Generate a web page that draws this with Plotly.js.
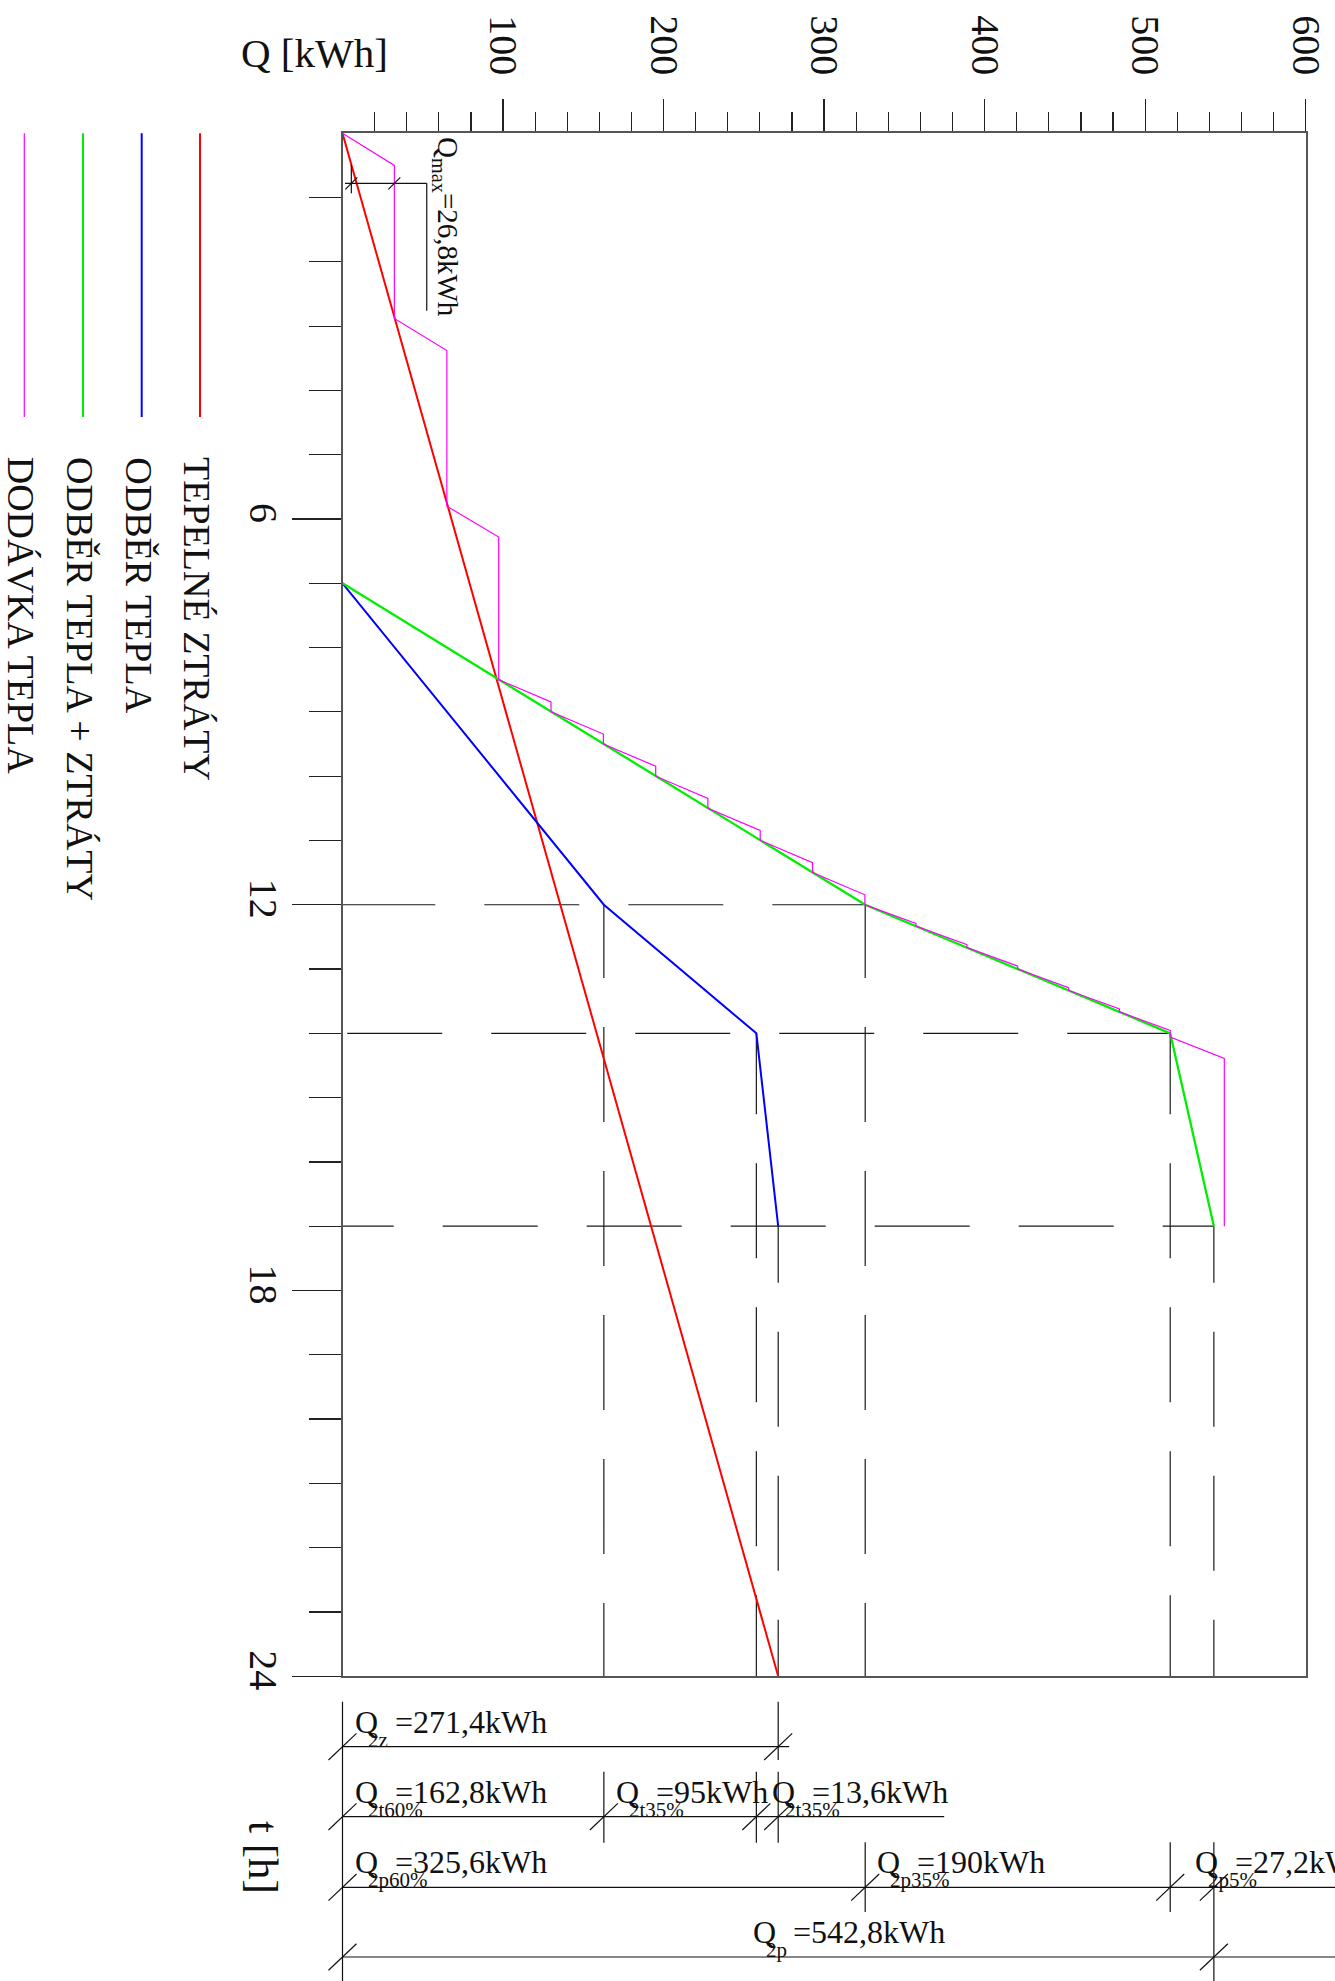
<!DOCTYPE html>
<html>
<head>
<meta charset="utf-8">
<script src="https://cdn.plot.ly/plotly-3.0.1.min.js"></script>
<style>
  html, body { margin: 0; padding: 0; background: #fff; }
  #chart { width: 1335px; height: 1981px; }
</style>
</head>
<body>
<div id="chart"></div>
<script>
// ---------------- data ----------------
// heat losses over the day (TEPELNÉ ZTRÁTY)
const lossT = [0, 24];
const lossQ = [0, 271.4];
// heat consumption (ODBĚR TEPLA)
const demandT = [7, 12, 14, 17];
const demandQ = [0, 162.8, 257.8, 271.4];
// consumption + losses (ODBĚR TEPLA + ZTRÁTY)
const totalT = [7, 12, 14, 17];
const totalQ = [0, 325.6, 515.6, 542.8];
// stepped heat delivery (DODÁVKA TEPLA)
const supplyT = [0, 0.50, 2.88, 3.38, 5.80, 6.28, 8.50, 8.845, 9.0, 9.345, 9.5, 9.845, 10.0,
                 10.345, 10.5, 10.845, 11.0, 11.345, 11.5, 11.845, 12.0, 12.29, 12.333, 12.62,
                 12.667, 12.955, 13.0, 13.29, 13.333, 13.62, 13.667, 13.955, 14.06, 14.39, 17.0];
const supplyQ = [0, 32.3, 32.3, 65.0, 65.0, 97.3, 97.3, 129.9, 129.9, 162.5, 162.5, 195.1, 195.1,
                 227.6, 227.6, 260.2, 260.2, 292.8, 292.8, 325.4, 325.4, 357.2, 357.2, 389.0,
                 389.0, 420.6, 420.6, 452.3, 452.3, 484.0, 484.0, 515.6, 515.6, 549.3, 549.3];
const qMax = 26.8;

const seriesNames = ['TEPELNÉ ZTRÁTY', 'ODBĚR TEPLA', 'ODBĚR TEPLA + ZTRÁTY', 'DODÁVKA TEPLA'];
const seriesColors = ['#ff0000', '#0000ff', '#00ee00', '#ff00ff'];

const qTicks = [100, 200, 300, 400, 500, 600];
const tTicks = [6, 12, 18, 24];
const dayEnd = 24;

// dimension rows below the chart
const lossSubs = ['2z'];                        const lossParts = [271.4];
const demandSubs = ['2t60%', '2t35%', '2t35%']; const demandParts = [162.8, 95, 13.6];
const totalSubs = ['2p60%', '2p35%', '2p5%'];   const totalParts = [325.6, 190, 27.2];
const sumSubs = ['2p'];                         const sumParts = [542.8];

// ---------------- geometry ----------------
const W = 1335, H = 1981;
const X0 = 342.5, X1 = 1305.7;   // pixel columns of Q = 0 and Q = 600
const Y0 = 133.3, Y1 = 1676.2;   // pixel rows of t = 0 and t = 24
const Q_AX = 600, T_AX = 24;
const KX = (X1 - X0) / Q_AX, KY = (Y1 - Y0) / T_AX;
const qAt = px => (px - X0) / KX;
const tAt = py => (py - Y0) / KY;
const fx = px => px / W;
const fy = py => 1 - py / H;

const FONT = '"Liberation Serif", "Times New Roman", serif';
const INK = '#111';
const fmt = v => String(Math.round(v * 10) / 10).replace('.', ',');

// dash list with a given (or centred) leading dash, CAD style
function dashList(lenPx, lead) {
  const D = 95, G = 49, P = D + G;
  if (lead === undefined) {
    const k = Math.max(1, Math.ceil((lenPx - D) / P));
    lead = (lenPx - k * G - (k - 1) * D) / 2;
  }
  const parts = [lead];
  let acc = lead;
  while (acc < lenPx + P) { parts.push(G, D); acc += P; }
  parts.push(G);
  return parts.map(v => v.toFixed(1) + 'px').join(',');
}

const traces = [];

// ---- dashed guide lines ----
function guide(xs, ys, dash) {
  traces.push({x: xs, y: ys, mode: 'lines', hoverinfo: 'skip',
    line: {color: '#1a1a1a', width: 1.2, dash: dash}});
}
for (let i = 1; i < totalT.length; i++) {
  const t = totalT[i], q = totalQ[i];
  if (i === 2) guide([q, 0], [t, t], dashList(q * KX, 103));
  else guide([0, q], [t, t], dashList(q * KX));
  guide([q, q], [t, dayEnd], dashList((dayEnd - t) * KY));
  guide([demandQ[i], demandQ[i]], [demandT[i], dayEnd], dashList((dayEnd - demandT[i]) * KY));
}

// ---- series ----
const seriesWidths = [2, 2, 2.3, 1.2];
[[lossQ, lossT], [demandQ, demandT], [totalQ, totalT], [supplyQ, supplyT]].forEach((s, i) => {
  traces.push({x: s[0], y: s[1], mode: 'lines', name: seriesNames[i], hoverinfo: 'skip',
    line: {color: seriesColors[i], width: seriesWidths[i]}});
});

// ---- dimension drawing (second subplot spanning the whole page) ----
const dimX = [], dimY = [];
function seg(q0, t0, q1, t1) { dimX.push(q0, q1, null); dimY.push(t0, t1, null); }
function slash(q, t, sx, sy) { seg(q - sx / KX, t + sy / KY, q + sx / KX, t - sy / KY); }

const annotations = [];
function label(px, py, text, size, opts) {
  annotations.push(Object.assign({
    xref: 'paper', yref: 'paper', x: fx(px), y: fy(py), text: text, showarrow: false,
    xanchor: 'left', yanchor: 'middle', font: {family: FONT, size: size, color: INK}
  }, opts || {}));
}

const dimRows = [
  {py: 1746.7, subs: lossSubs, parts: lossParts, tail: 11, below: 13.3, offs: [10.5]},
  {py: 1816.7, subs: demandSubs, parts: demandParts, tail: 166, below: 26, offs: [10.5, 10.5, 13.5]},
  {py: 1887.3, subs: totalSubs, parts: totalParts, tail: 200, below: 24.7, offs: [10.5, 9.8, 22.5]},
  {py: 1957.0, subs: sumSubs, parts: sumParts, tail: 200, below: null, centred: true}
];
// left extension line at Q = 0
seg(0, tAt(dimRows[0].py - 45), 0, tAt(H + 5));
dimRows.forEach(row => {
  const t = tAt(row.py);
  const bounds = [0];
  row.parts.forEach(p => bounds.push(bounds[bounds.length - 1] + p));
  const last = bounds[bounds.length - 1];
  seg(0, t, last + row.tail / KX, t);
  bounds.forEach((b, j) => {
    slash(b, t, 14, 13.3);
    if (j > 0) {
      const bottom = row.below === null ? H + 5 : row.py + row.below;
      seg(b, tAt(row.py - 45), b, tAt(bottom));
    }
  });
  row.parts.forEach((p, j) => {
    const segStart = X0 + bounds[j] * KX;
    let qx;
    if (row.centred) qx = X0 + (bounds[j] + bounds[j + 1]) / 2 * KX - 27;
    else qx = segStart + row.offs[j];
    label(qx, row.py - 25, 'Q', 32);
    label(qx + 13, row.py - 7, row.subs[j], 21);
    label(qx + 40, row.py - 25, '=' + fmt(p) + 'kWh', 32);
  });
});

// Qmax dimension at the first delivery step
const qmR = supplyQ[1], qmL = qmR - qMax;
const tmax = tAt(183.3);
seg(qmL - 6.3 / KX, tmax, qmR + 32.4 / KX, tmax);
seg(qmL, tAt(165), qmL, tAt(193.3));
slash(qmL, tmax, 6, 6);
slash(qmR, tmax, 6, 6);
seg(qmR + 32.4 / KX, tmax, qmR + 32.4 / KX, tAt(310.7));
label(446, 135, 'Q<sub>max</sub>=' + fmt(qMax) + 'kWh', 29,
  {xanchor: 'center', yanchor: 'top', textangle: 90});

traces.push({x: dimX, y: dimY, xaxis: 'x2', yaxis: 'y2', mode: 'lines', hoverinfo: 'skip',
  connectgaps: false, line: {color: '#111', width: 1.2}});

// ---- legend (vertical swatches with rotated captions) ----
const legendX = [200, 141.7, 83, 24.3];
const shapes = [];
seriesNames.forEach((name, i) => {
  shapes.push({type: 'line', xref: 'paper', yref: 'paper',
    x0: fx(legendX[i]), x1: fx(legendX[i]), y0: fy(133.3), y1: fy(417),
    line: {color: seriesColors[i], width: i === 3 ? 1.2 : 2}});
  label(legendX[i] - 3, 455, name, 38, {xanchor: 'center', yanchor: 'top', textangle: 90});
});

// axis captions
label(238.5, 53, 'Q [kWh]', 41);
label(264, 1857, 't [h]', 43, {xanchor: 'center', textangle: 90});

// ---------------- axes ----------------
const qMinor = [], tMinor = [];
for (let v = 20; v < Q_AX; v += 20) if (v % 100 !== 0) qMinor.push(v);
for (let v = 1; v < T_AX; v++) if (v % 6 !== 0) tMinor.push(v);

const tickCol = '#222';
const layout = {
  width: W, height: H,
  margin: {l: 0, r: 0, t: 0, b: 0},
  paper_bgcolor: '#ffffff', plot_bgcolor: 'rgba(0,0,0,0)',
  showlegend: false,
  xaxis: {
    domain: [fx(X0), fx(X1)], range: [0, Q_AX], side: 'top',
    showline: true, linecolor: '#555', linewidth: 2, mirror: true,
    showgrid: false, zeroline: false,
    tickmode: 'array', tickvals: qTicks, ticks: 'outside', ticklen: 32, tickwidth: 1.2, tickcolor: tickCol,
    tickangle: 90, ticklabelstandoff: 10,
    tickfont: {family: FONT, size: 40, color: INK},
    minor: {tickmode: 'array', tickvals: qMinor, ticks: 'outside', ticklen: 19, tickwidth: 1.2, tickcolor: tickCol}
  },
  yaxis: {
    domain: [fy(Y1), fy(Y0)], range: [T_AX, 0],
    showline: true, linecolor: '#555', linewidth: 2, mirror: true,
    showgrid: false, zeroline: false,
    tickmode: 'array', tickvals: tTicks, ticks: 'outside', ticklen: 49, tickwidth: 1.2, tickcolor: tickCol,
    tickangle: 90, ticklabelstandoff: -6,
    tickfont: {family: FONT, size: 40, color: INK},
    minor: {tickmode: 'array', tickvals: tMinor, ticks: 'outside', ticklen: 32, tickwidth: 1.2, tickcolor: tickCol}
  },
  xaxis2: {domain: [0, 1], anchor: 'y2', range: [qAt(0), qAt(W)], visible: false},
  yaxis2: {domain: [0, 1], anchor: 'x2', range: [tAt(H), tAt(0)], visible: false},
  shapes: shapes,
  annotations: annotations
};

Plotly.newPlot('chart', traces, layout, {staticPlot: true});
</script>
</body>
</html>
